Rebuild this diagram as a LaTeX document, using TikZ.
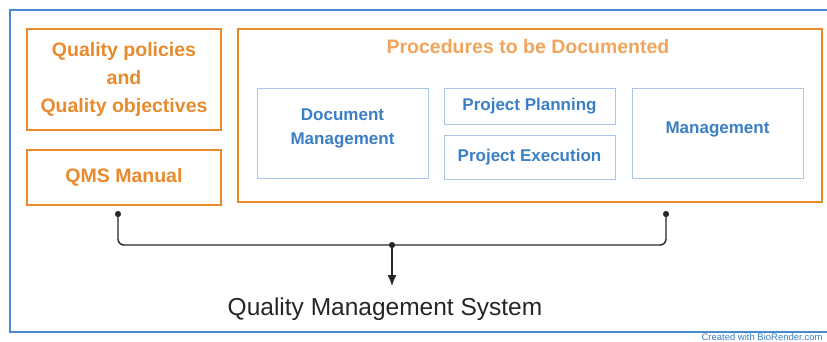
\documentclass[tikz,border=0pt]{standalone}
\usepackage{fontspec}
\setmainfont{Liberation Sans}
\usepackage{tikz}
\usetikzlibrary{arrows.meta}
\tikzset{>=latex}
\definecolor{qorange}{HTML}{E98A2C}
\definecolor{qlight}{HTML}{F0A45C}
\definecolor{qblue}{HTML}{3B7FC4}
\definecolor{qframe}{HTML}{A9C7EC}
\definecolor{qedge}{HTML}{4A8AD0}
\tikzset{
    obox/.style={draw=qorange, line width=1.3pt, text=qorange, align=center, inner sep=0pt,
        font=\fontsize{19.5}{28}\selectfont\bfseries},
    bbox/.style={draw=qframe, line width=0.9pt, text=qblue, align=center, inner sep=0pt,
        font=\fontsize{17}{24}\selectfont\bfseries},
}

\begin{document}
\begin{tikzpicture}[x=1pt,y=-1pt]
            \useasboundingbox (0,0) rectangle (827,341);
            \draw[qedge, line width=1.3pt] (840,10) -- (10,10) -- (10,332) -- (840,332);
            \node[obox, minimum width=194pt, minimum height=101pt] (policy) at (124,79.5)
                {Quality policies\\and\\Quality objectives};
            \node[obox, minimum width=194pt, minimum height=55pt] (manual) at (124,177.5) {QMS Manual};
            \node[obox, minimum width=584pt, minimum height=173pt] (proc) at (530,115.5) {};
            \node[text=qlight, font=\fontsize{19.5}{22}\selectfont\bfseries] (proctitle) at (528,47)
                {Procedures to be Documented};
            % boxes inside the procedures frame
            \node[bbox, minimum width=171pt, minimum height=90pt] (docmgmt) at (342.5,133) {};
            \node[text=qblue, align=center, font=\fontsize{17}{24}\selectfont\bfseries] at (342.5,128)
                {Document\\Management};
            \node[bbox, minimum width=171pt, minimum height=36pt] (plan) at (529.5,106) {Project Planning};
            \node[bbox, minimum width=171pt, minimum height=44pt] (exec) at (529.5,157) {Project Execution};
            \node[bbox, minimum width=171pt, minimum height=90pt] (mgmt) at (717.5,133) {};
            \node[text=qblue, font=\fontsize{17}{24}\selectfont\bfseries] at (717.5,129) {Management};
            \node[text=black!85, font=\fontsize{24.5}{28}\selectfont] (qms) at (385,309)
                {Quality Management System};
            \node[anchor=west, text=qblue, font=\fontsize{9.5}{11}\selectfont] (credit) at (698,337)
                {Created with BioRender.com};
            \coordinate (l) at (118,214);
            \coordinate (r) at (666,214);
            \coordinate (m) at (392,245);
            \coordinate (tip) at (392,286);
            \foreach \v in {l,r,m}
                \filldraw[black!85] (\v) circle (2.8);
            \draw[black!85, line width=1.4pt, rounded corners=6pt] (l) |- (m) -| (r);
            \draw[black!85, line width=1.4pt, -{Latex[length=11pt,width=9pt]}] (m) -- (tip);
        \end{tikzpicture}
\end{document}
